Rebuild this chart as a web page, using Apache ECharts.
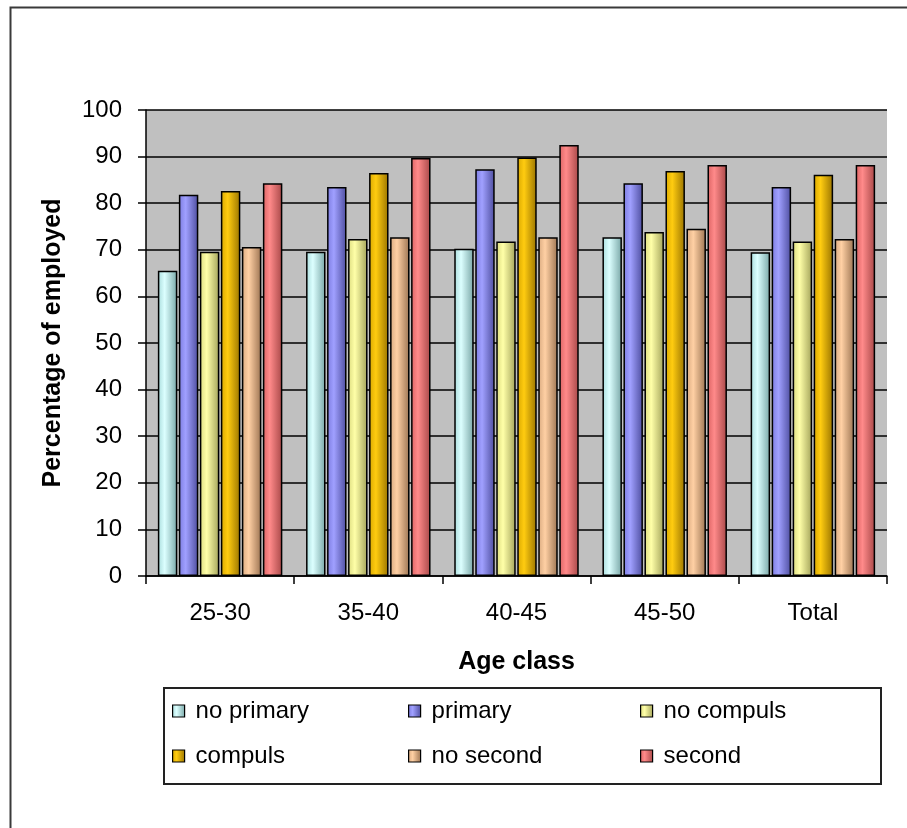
<!DOCTYPE html>
<html>
<head>
<meta charset="utf-8">
<script src="https://cdn.jsdelivr.net/npm/echarts@6/dist/echarts.min.js"></script>
<style>
  html, body { margin: 0; padding: 0; background: #fff; }
  #chart { width: 907px; height: 828px; }
</style>
</head>
<body>
<div id="chart"></div>
<script>
// Age classes on the category axis
const categories = ['25-30', '35-40', '40-45', '45-50', 'Total'];

// Percentage of employed by schooling level
const noPrimary  = [65.5, 69.6, 70.2, 72.7, 69.5];
const primary    = [81.8, 83.5, 87.3, 84.3, 83.5];
const noCompuls  = [69.6, 72.3, 71.8, 73.8, 71.8];
const compuls    = [82.6, 86.5, 89.8, 86.9, 86.1];
const noSecond   = [70.6, 72.7, 72.7, 74.5, 72.3];
const second     = [84.3, 89.7, 92.5, 88.2, 88.2];

const yTicks = { min: 0, max: 100, interval: 10 };

const seriesDefs = [
  { name: 'no primary', data: noPrimary, stops: ['#a9dcdc', '#dcffff', '#78a6a6'] },
  { name: 'primary',    data: primary,   stops: ['#7c7ce0', '#a0a0ff', '#4d4d9e'] },
  { name: 'no compuls', data: noCompuls, stops: ['#dcdc80', '#ffffa8', '#a3a35a'] },
  { name: 'compuls',    data: compuls,   stops: ['#d9a800', '#ffcc10', '#9a7400'] },
  { name: 'no second',  data: noSecond,  stops: ['#d9aa80', '#ffd0a4', '#9c7452'] },
  { name: 'second',     data: second,    stops: ['#dc6464', '#ff8a8a', '#a84848'] }
];

const gradient = (s) => new echarts.graphic.LinearGradient(0, 0, 1, 0, [
  { offset: 0, color: s[0] },
  { offset: 0.35, color: s[1] },
  { offset: 1, color: s[2] }
]);

const font = 'Liberation Sans, Arial, sans-serif';

const chart = echarts.init(document.getElementById('chart'), null, { renderer: 'canvas' });

const legendCols = [
  { left: 167, data: ['no primary', 'compuls'] },
  { left: 403, data: ['primary', 'no second'] },
  { left: 635, data: ['no compuls', 'second'] }
];

chart.setOption({
  animation: false,
  backgroundColor: '#ffffff',
  textStyle: { fontFamily: font },
  graphic: [
    {
      type: 'rect',
      left: 8, top: 5,
      shape: { width: 1000, height: 1000 },
      style: { fill: 'none', stroke: '#3a3a3a', lineWidth: 2 },
      silent: true
    },
    {
      type: 'rect',
      left: 163, top: 687,
      shape: { width: 717, height: 96 },
      style: { fill: '#ffffff', stroke: '#222', lineWidth: 2 },
      silent: true,
      z: -1
    }
  ],
  legend: legendCols.map(c => ({
    orient: 'vertical',
    left: c.left,
    top: 694,
    data: c.data,
    itemWidth: 12,
    itemHeight: 12,
    itemGap: 21,
    selectedMode: false,
    icon: 'rect',
    itemStyle: { borderColor: '#000', borderWidth: 1.2 },
    textStyle: { fontSize: 24, color: '#000', fontFamily: font, padding: [0, 0, 0, 6] }
  })),
  grid: {
    left: 146, right: 20, top: 110, bottom: 252,
    show: true,
    backgroundColor: '#c0c0c0',
    borderWidth: 0
  },
  xAxis: {
    type: 'category',
    data: categories,
    boundaryGap: true,
    name: 'Age class',
    nameLocation: 'middle',
    nameGap: 74,
    nameTextStyle: { fontSize: 25, fontWeight: 'bold', color: '#000', fontFamily: font },
    axisLine: { lineStyle: { color: '#000', width: 1.5 } },
    axisTick: { show: true, length: 8, alignWithLabel: false, lineStyle: { color: '#000', width: 1.5 } },
    axisLabel: { fontSize: 24, color: '#000', margin: 25, fontFamily: font },
    splitLine: { show: false }
  },
  yAxis: {
    type: 'value',
    min: yTicks.min,
    max: yTicks.max,
    interval: yTicks.interval,
    name: 'Percentage of employed',
    nameLocation: 'middle',
    nameGap: 80,
    nameTextStyle: { fontSize: 25, fontWeight: 'bold', color: '#000', fontFamily: font },
    axisLine: { show: true, lineStyle: { color: '#000', width: 1.5 } },
    axisTick: { show: true, length: 8, lineStyle: { color: '#000', width: 1.5 } },
    axisLabel: { fontSize: 24, color: '#000', margin: 24, fontFamily: font },
    splitLine: { show: true, lineStyle: { color: '#000', width: 1.5 } }
  },
  series: seriesDefs.map(d => ({
    name: d.name,
    type: 'bar',
    data: d.data,
    barGap: '8%',
    barCategoryGap: '16%',
    itemStyle: { color: gradient(d.stops), borderColor: '#000', borderWidth: 1.5 },
    emphasis: { disabled: true }
  }))
});
</script>
</body>
</html>
